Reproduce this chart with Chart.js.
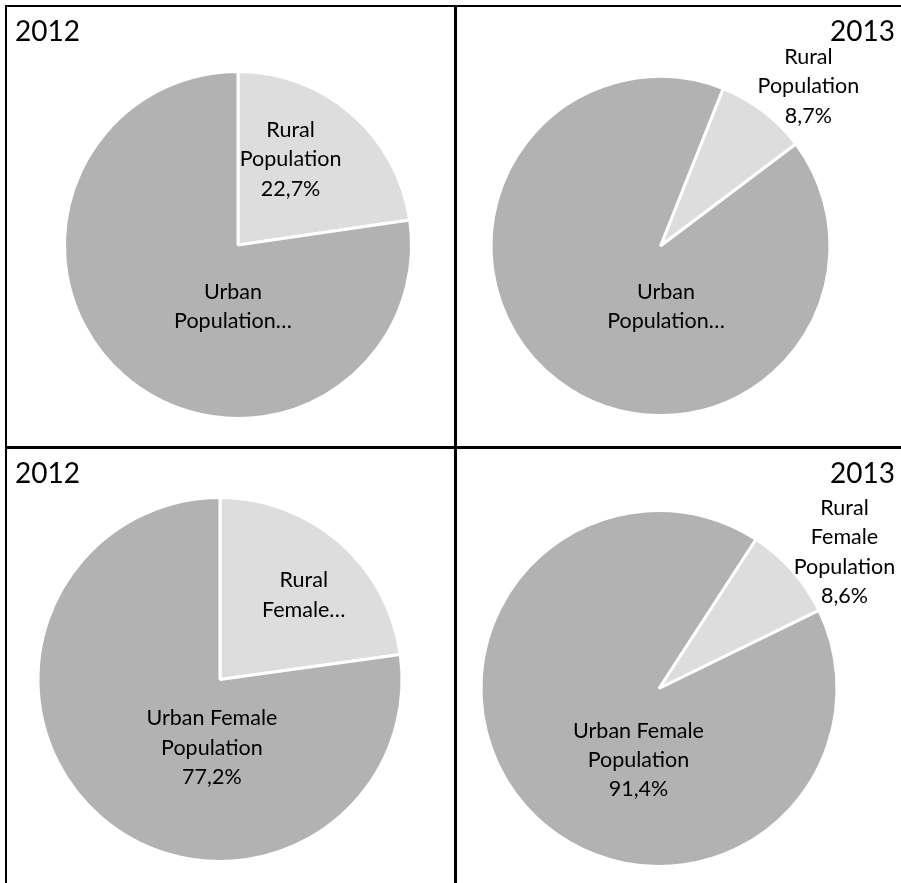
<!DOCTYPE html>
<html lang="en">
<head>
    <meta charset="UTF-8">
    <title>Urban and Rural Population 2012-2013</title>
    <script src="https://cdn.jsdelivr.net/npm/chart.js"></script>
    <style>
        body { margin: 0; background: #fff; }
        #wrap { position: relative; width: 901px; height: 883px; overflow: hidden; }
        .line { position: absolute; background: #000; }
        .panel { position: absolute; }
    </style>
</head>
<body>
<div id="wrap">
    <div class="panel" style="left:7px;top:7px"><canvas id="c1" width="447" height="439"></canvas></div>
    <div class="panel" style="left:457px;top:7px"><canvas id="c2" width="444" height="439"></canvas></div>
    <div class="panel" style="left:7px;top:449px"><canvas id="c3" width="447" height="434"></canvas></div>
    <div class="panel" style="left:457px;top:449px"><canvas id="c4" width="444" height="434"></canvas></div>
    <div class="line" style="left:5px;top:5px;width:896px;height:2px"></div>
    <div class="line" style="left:5px;top:5px;width:2px;height:878px"></div>
    <div class="line" style="left:454px;top:5px;width:3px;height:878px"></div>
    <div class="line" style="left:5px;top:446px;width:896px;height:3px"></div>
</div>
<script>
    // data (percent)
    const years = ['2012', '2013'];
    const popLabels = ['Rural Population', 'Urban Population'];
    const femaleLabels = ['Rural Female Population', 'Urban Female Population'];
    const pop2012 = [22.7, 77.3];
    const pop2013 = [8.7, 91.3];
    const female2012 = [22.8, 77.2];
    const female2013 = [8.6, 91.4];

    const colors = ['#dddddd', '#b2b2b2'];
    const FONT = 'Lato, "Open Sans", sans-serif';

    function pct(v) {
        return v.toFixed(1).replace('.', ',') + '%';
    }

    // how each label is wrapped / cut in the original, and where it sits
    const charts = [
        {
            id: 'c1', year: years[0], yearAlign: 'left', labels: popLabels, values: pop2012,
            cx: 238, cy: 245, r: 173.5,
            rotation: 0,
            lines: [['Rural', 'Population', '%'], ['Urban', 'Population…']],
            pos: [[31.5, 0.58], [184.7, 0.356]]
        },
        {
            id: 'c2', year: years[1], yearAlign: 'right', labels: popLabels, values: pop2013,
            cx: 660.5, cy: 246, r: 169.5,
            rotation: 21.7,
            lines: [['Rural', 'Population', '%'], ['Urban', 'Population…']],
            pos: [[42.8, 1.284], [174.8, 0.36]]
        },
        {
            id: 'c3', year: years[0], yearAlign: 'left', labels: femaleLabels, values: female2012,
            cx: 220, cy: 679.5, r: 182,
            rotation: 0,
            lines: [['Rural', 'Female…'], ['Urban Female', 'Population', '%']],
            pos: [[44.8, 0.653], [186.8, 0.377]]
        },
        {
            id: 'c4', year: years[1], yearAlign: 'right', labels: femaleLabels, values: female2013,
            cx: 659, cy: 688.5, r: 178,
            rotation: 33,
            lines: [['Rural', 'Female', 'Population', '%'], ['Urban Female', 'Population', '%']],
            pos: [[53.7, 1.293], [196, 0.418]]
        }
    ];

    const labelPlugin = {
        id: 'sliceLabels',
        afterDatasetsDraw(chart) {
            const cfg = chart.options.plugins.sliceLabels;
            const ctx = chart.ctx;
            const meta = chart.getDatasetMeta(0);
            ctx.save();
            ctx.fillStyle = '#000';
            ctx.textAlign = 'center';
            ctx.textBaseline = 'middle';
            ctx.font = '21.5px ' + FONT;
            meta.data.forEach((arc, i) => {
                const a = cfg.pos[i][0] * Math.PI / 180;
                const d = arc.outerRadius * cfg.pos[i][1];
                const x = arc.x + d * Math.sin(a);
                const y = arc.y - d * Math.cos(a);
                const lines = cfg.lines[i].map(t => t === '%' ? pct(cfg.values[i]) : t);
                const lh = 29.4;
                lines.forEach((t, k) => {
                    ctx.fillText(t, x, y + (k - (lines.length - 1) / 2) * lh);
                });
            });
            // year caption
            ctx.font = '28px ' + FONT;
            ctx.textBaseline = 'alphabetic';
            ctx.textAlign = cfg.yearAlign;
            const yx = cfg.yearAlign === 'left' ? 8 : chart.width - 6;
            ctx.fillText(cfg.year, yx, 34);
            ctx.restore();
        }
    };

    const panelBox = {
        c1: {x: 7, y: 7, w: 447, h: 439},
        c2: {x: 457, y: 7, w: 444, h: 439},
        c3: {x: 7, y: 449, w: 447, h: 434},
        c4: {x: 457, y: 449, w: 444, h: 434}
    };

    charts.forEach(c => {
        const b = panelBox[c.id];
        new Chart(document.getElementById(c.id), {
            type: 'pie',
            data: {
                labels: c.labels,
                datasets: [{
                    data: c.values,
                    backgroundColor: colors,
                    borderColor: '#ffffff',
                    borderWidth: 3,
                    radius: c.r
                }]
            },
            options: {
                responsive: false,
                animation: false,
                rotation: c.rotation,
                layout: {
                    padding: {
                        left: c.cx - c.r - b.x,
                        top: c.cy - c.r - b.y,
                        right: b.x + b.w - (c.cx + c.r),
                        bottom: b.y + b.h - (c.cy + c.r)
                    }
                },
                plugins: {
                    legend: { display: false },
                    tooltip: { enabled: false },
                    sliceLabels: {
                        lines: c.lines, pos: c.pos, values: c.values,
                        year: c.year, yearAlign: c.yearAlign
                    }
                }
            },
            plugins: [labelPlugin]
        });
    });
</script>
</body>
</html>
